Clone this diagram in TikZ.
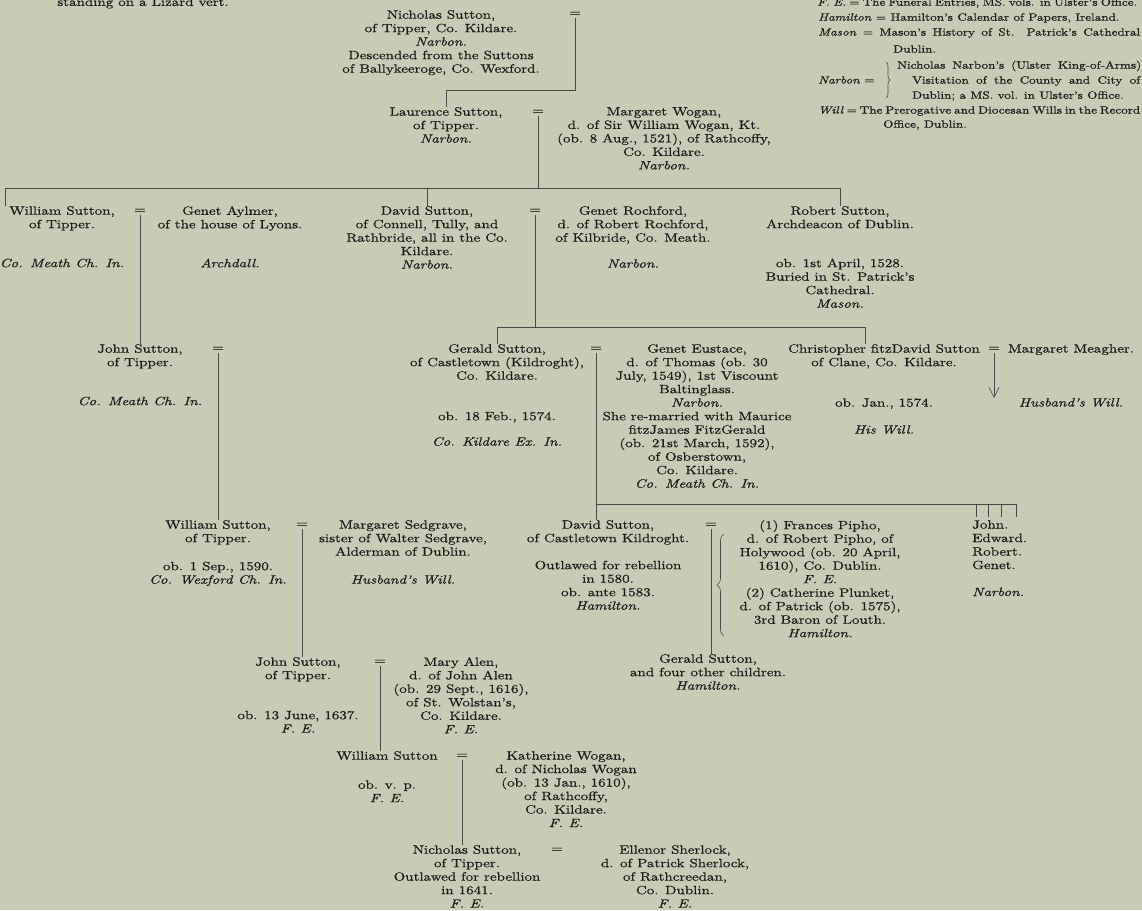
\documentclass[tikz,border=0pt]{standalone}
\usepackage{fontspec}
\setmainfont{lmroman10}[Extension=.otf, UprightFont=*-regular, ItalicFont=*-italic,
  BoldFont=*-bold, BoldItalicFont=*-bolditalic, FakeStretch=1.25, FakeBold=0.6]
\usetikzlibrary{decorations.pathreplacing,arrows.meta}
\definecolor{paper}{RGB}{201,203,182}
\definecolor{ink}{RGB}{28,28,26}
\newcommand{\pedfont}{\fontsize{12}{13.5}\selectfont}
\newcommand{\keyfont}{\fontsize{10.5}{15}\selectfont}
\newcommand{\src}[1]{\textit{#1}}

\begin{document}
\begin{tikzpicture}[x=1pt, y=-1pt, inner sep=0pt,
    every node/.style={text=ink, font=\pedfont},
    pers/.style={align=center, anchor=north},
    eq/.style={inner ysep=2pt},
    key/.style={anchor=west, font=\keyfont},
    line/.style={draw=ink!80, line width=0.6pt}]
  \useasboundingbox[fill=paper] (0,0) rectangle (1142,910);

  % key to the references
  \node[key] (K1) at (817, 3) {\makebox[320pt][s]{\src{F. E.} = The Funeral Entries, MS. vols. in Ulster's Office.}};
  \node[key] (K2) at (818, 18) {\src{Hamilton} = Hamilton's Calendar of Papers, Ireland.};
  \node[key] (K3) at (818, 33) {\makebox[322pt][s]{\src{Mason} = Mason's History of St. Patrick's Cathedral}};
  \node[key] (K4) at (893, 49) {Dublin.};
  \node[key] (K5) at (818, 80) {\src{Narbon} =};
  \node[key] (K6) at (897, 66) {\makebox[244pt][s]{Nicholas Narbon's (Ulster King-of-Arms)}};
  \node[key] (K7) at (912, 81) {\makebox[228pt][s]{Visitation of the County and City of}};
  \node[key] (K8) at (912, 96) {Dublin; a MS. vol. in Ulster's Office.};
  \node[key] (K9) at (818, 111) {\makebox[322pt][s]{\src{Will} = The Prerogative and Diocesan Wills in the Record}};
  \node[key] (K10) at (883, 125) {Office, Dublin.};
  \draw[line, decorate, decoration={brace, amplitude=4pt}] (886, 62) -- (886, 98);

  \node (LZ) at (143, 3) {standing on a Lizard vert.};

  % first generations
  \node[pers] (NS) at (441, 10) {Nicholas Sutton,\\ of Tipper, Co. Kildare.\\ \src{Narbon.}\\ Descended from the Suttons\\ of Ballykeeroge, Co. Wexford.};
  \node[eq] (E1) at (575, 14) {=};
  \node[pers] (LS) at (446, 107) {Laurence Sutton,\\ of Tipper.\\ \src{Narbon.}};
  \node[eq] (E2) at (538, 112) {=};
  \node[pers] (MW) at (664, 107) {Margaret Wogan,\\ d. of Sir William Wogan, Kt.\\ (ob. 8 Aug., 1521), of Rathcoffy,\\ Co. Kildare.\\ \src{Narbon.}};

  \node[pers] (WS1) at (62, 206) {William Sutton,\\ of Tipper.\\[25.5pt] \src{Co. Meath Ch. In.}};
  \node[eq] (E3) at (140, 211) {=};
  \node[pers] (GA) at (230, 206) {Genet Aylmer,\\ of the house of Lyons.\\[25.5pt] \src{Archdall.}};
  \node[pers] (DS1) at (427, 206) {David Sutton,\\ of Connell, Tully, and\\ Rathbride, all in the Co.\\ Kildare.\\ \src{Narbon.}};
  \node[eq] (E4) at (535, 211) {=};
  \node[pers] (GR) at (633, 206) {Genet Rochford,\\ d. of Robert Rochford,\\ of Kilbride, Co. Meath.\\[12.5pt] \src{Narbon.}};
  \node[pers] (RS) at (840, 206) {Robert Sutton,\\ Archdeacon of Dublin.\\[25.5pt] ob. 1st April, 1528.\\ Buried in St. Patrick's\\ Cathedral.\\ \src{Mason.}};

  \node[pers] (JS1) at (140, 344) {John Sutton,\\ of Tipper.\\[25.5pt] \src{Co. Meath Ch. In.}};
  \node[eq] (E5) at (218, 349) {=};
  \node[pers] (GS1) at (497, 344) {Gerald Sutton,\\ of Castletown (Kildroght),\\ Co. Kildare.\\[27pt] ob. 18 Feb., 1574.\\[12pt] \src{Co. Kildare Ex. In.}};
  \node[eq] (E6) at (596, 349) {=};
  \node[pers] (GE) at (697, 344) {Genet Eustace,\\ d. of Thomas (ob. 30\\ July, 1549), 1st Viscount\\ Baltinglass.\\ \src{Narbon.}\\ She re-married with Maurice\\ fitzJames FitzGerald\\ (ob. 21st March, 1592),\\ of Osberstown,\\ Co. Kildare.\\ \src{Co. Meath Ch. In.}};
  \node[pers] (CS) at (884, 344) {Christopher fitzDavid Sutton\\ of Clane, Co. Kildare.\\[27pt] ob. Jan., 1574.\\[13.5pt] \src{His Will.}};
  \node[eq] (E7) at (994, 349) {=};
  \node[pers] (MM) at (1071, 344) {Margaret Meagher.\\[40.5pt] \src{Husband's Will.}};
  \coordinate (AR) at (994, 398);

  % later generations
  \node[pers] (WS2) at (218, 520) {William Sutton,\\ of Tipper.\\[14.5pt] ob. 1 Sep., 1590.\\ \src{Co. Wexford Ch. In.}};
  \node[eq] (E8) at (302, 525) {=};
  \node[pers] (MS) at (403, 520) {Margaret Sedgrave,\\ sister of Walter Sedgrave,\\ Alderman of Dublin.\\[14.5pt] \src{Husband's Will.}};
  \node[pers] (DS2) at (608, 520) {David Sutton,\\ of Castletown Kildroght.\\[13.5pt] Outlawed for rebellion\\ in 1580.\\ ob. ante 1583.\\ \src{Hamilton.}};
  \node[eq] (E9) at (711, 525) {=};
  \node[pers] (FP) at (820, 520) {(1) Frances Pipho,\\ d. of Robert Pipho, of\\ Holywood (ob. 20 April,\\ 1610), Co. Dublin.\\ \src{F. E.}\\ (2) Catherine Plunket,\\ d. of Patrick (ob. 1575),\\ 3rd Baron of Louth.\\ \src{Hamilton.}};
  \node[align=left, anchor=north west] (KS) at (972, 520) {John.\\ Edward.\\ Robert.\\ Genet.\\[13.5pt] \src{Narbon.}};
  \node[pers] (GS2) at (708, 654) {Gerald Sutton,\\ and four other children.\\ \src{Hamilton.}};

  \node[pers] (JS2) at (298, 657) {John Sutton,\\ of Tipper.\\[26.5pt] ob. 13 June, 1637.\\ \src{F. E.}};
  \node[eq] (E10) at (380, 662) {=};
  \node[pers] (MA) at (461, 657) {Mary Alen,\\ d. of John Alen\\ (ob. 29 Sept., 1616),\\ of St. Wolstan's,\\ Co. Kildare.\\ \src{F. E.}};

  \node[pers] (WS3) at (387, 751) {William Sutton\\[15.5pt] ob. v. p.\\ \src{F. E.}};
  \node[eq] (E11) at (462, 756) {=};
  \node[pers] (KW) at (566, 751) {Katherine Wogan,\\ d. of Nicholas Wogan\\ (ob. 13 Jan., 1610),\\ of Rathcoffy,\\ Co. Kildare.\\ \src{F. E.}};

  \node[pers] (NS2) at (467, 845) {Nicholas Sutton,\\ of Tipper.\\ Outlawed for rebellion\\ in 1641.\\ \src{F. E.}};
  \node[eq] (E12) at (557, 850) {=};
  \node[pers] (ES) at (675, 845) {Ellenor Sherlock,\\ d. of Patrick Sherlock,\\ of Rathcreedan,\\ Co. Dublin.\\ \src{F. E.}};

  % lines of descent
  \coordinate (R1) at (0, 90);
  \coordinate (R2) at (5, 188);
  \coordinate (R3) at (865, 327);
  \coordinate (R4) at (0, 504);
  \coordinate (R4e) at (1016, 504);
  \draw[line] (E1.south) -- (E1 |- R1) -| (LS.north);
  \draw[line] (E2.south) -- (E2 |- R2);
  \draw[line] (R2 |- WS1.north) -- (R2) -| (RS.north);
  \draw[line] (R2 -| DS1.north) -- (DS1.north);
  \draw[line] (E3.south) -- (E3 |- JS1.north);
  \draw[line] (E4.south) -- (E4 |- R3);
  \draw[line] (GS1.north) |- (R3) -- (R3 |- CS.north);
  \draw[line, -{Straight Barb[length=10pt, width=10pt]}] (E7.south) -- (AR);
  \draw[line] (E5.south) -- (E5 |- WS2.north);
  \draw[line] (E6.south) -- (E6 |- DS2.north);
  \draw[line] (E6 |- R4) -- (R4e);
  \foreach \x in {976, 988, 1001, 1016}
    \draw[line] (\x, 504) -- (\x, 517);
  \draw[line] (E9.south) -- (E9 |- GS2.north);
  \draw[line, decorate, decoration={brace, amplitude=7pt}] (724, 636) -- (724, 534);
  \draw[line] (E8.south) -- (E8 |- JS2.north);
  \draw[line] (E10.south) -- (E10 |- WS3.north);
  \draw[line] (E11.south) -- (E11 |- NS2.north);
\end{tikzpicture}
\end{document}
